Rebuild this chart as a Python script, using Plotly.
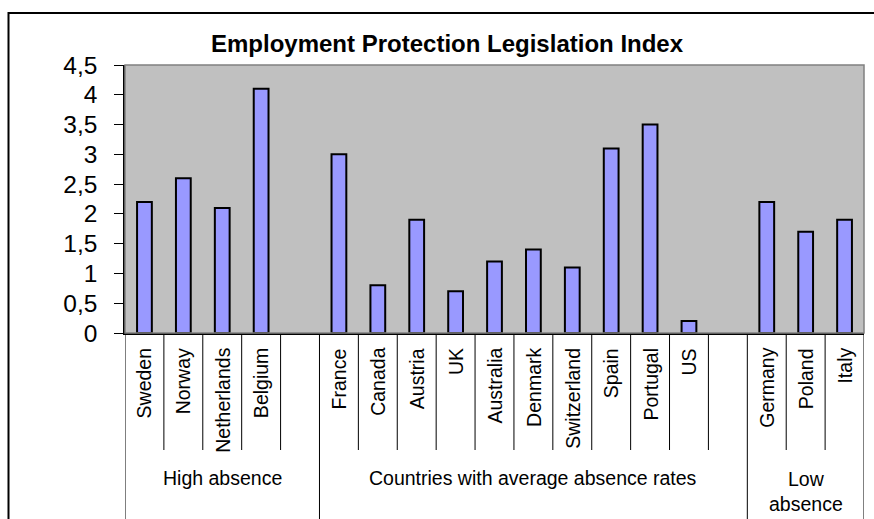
import plotly.graph_objects as go

countries = ["Sweden", "Norway", "Netherlands", "Belgium", "",
             "France", "Canada", "Austria", "UK", "Australia", "Denmark",
             "Switzerland", "Spain", "Portugal", "US", "",
             "Germany", "Poland", "Italy"]
values = [2.2, 2.6, 2.1, 4.1, None,
          3.0, 0.8, 1.9, 0.7, 1.2, 1.4, 1.1, 3.1, 3.5, 0.2, None,
          2.2, 1.7, 1.9]
groups = ["High absence", "Countries with average absence rates", "Low<br>absence"]
group_bounds = [(0, 5), (5, 16), (16, 19)]  # category index ranges [start, end)
y_ticks = [0, 0.5, 1, 1.5, 2, 2.5, 3, 3.5, 4, 4.5]
title = "Employment Protection Legislation Index"

FONT = "Arial, 'Liberation Sans', sans-serif"
W, H = 874, 519
L, R, T, B = 125, 10, 65, 186
pw, ph = W - L - R, H - T - B

def px_to_py(py):
    return (H - B - py) / ph

def px_to_px(px):
    return (px - L) / pw

n = len(countries)
xs = list(range(n))

fig = go.Figure()
fig.add_trace(go.Bar(
    x=xs, y=values, width=0.38,
    marker=dict(color="#9999FF", line=dict(color="black", width=2)),
    hoverinfo="skip",
))

shapes = []
annotations = []

# category labels and short dividers
for i, c in enumerate(countries):
    if c:
        annotations.append(dict(
            x=i, xref="x", y=px_to_py(346), yref="paper",
            text=c, textangle=-90, showarrow=False,
            xanchor="center", yanchor="top",
            font=dict(family=FONT, size=19.5, color="black"),
        ))
long_bounds = set()
for a, b in group_bounds:
    long_bounds.add(a)
    long_bounds.add(b)
for k in range(n + 1):
    y_end = px_to_py(530) if k in long_bounds else px_to_py(450)
    shapes.append(dict(
        type="line", xref="x", yref="paper",
        x0=k - 0.5, x1=k - 0.5, y0=0, y1=y_end,
        line=dict(color="black", width=1),
    ))

# group labels
for g, (a, b) in zip(groups, group_bounds):
    two_line = "<br>" in g
    annotations.append(dict(
        x=(a + b - 1) / 2, xref="x",
        y=px_to_py(491.5 if two_line else 478), yref="paper",
        text=g, showarrow=False, xanchor="center", yanchor="middle",
        font=dict(family=FONT, size=19.5, color="black"),
    ))

# title
annotations.append(dict(
    x=px_to_px(447), xref="paper", y=px_to_py(43), yref="paper",
    text="<b>" + title + "</b>", showarrow=False,
    xanchor="center", yanchor="middle",
    font=dict(family=FONT, size=24, color="black"),
))

# plot area border (gray) and outer chart frame
shapes.append(dict(type="rect", xref="paper", yref="paper", x0=0, x1=1, y0=0, y1=1,
                   line=dict(color="#808080", width=1.5), layer="above"))
shapes.append(dict(type="rect", xref="paper", yref="paper",
                   x0=px_to_px(8.5), x1=px_to_px(885), y0=px_to_py(535), y1=px_to_py(13),
                   line=dict(color="black", width=2)))

fig.update_layout(
    width=W, height=H,
    margin=dict(l=L, r=R, t=T, b=B),
    paper_bgcolor="white", plot_bgcolor="#C0C0C0",
    separators=", ",
    showlegend=False,
    shapes=shapes, annotations=annotations,
    xaxis=dict(range=[-0.5, n - 0.5], showticklabels=False, ticks="",
               showgrid=False, zeroline=False, showline=True,
               linecolor="black", linewidth=1.5, fixedrange=True),
    yaxis=dict(range=[0, 4.5], tickvals=y_ticks, ticks="outside", ticklen=9,
               tickcolor="black", tickwidth=1, ticklabelstandoff=12,
               showgrid=False, zeroline=False, showline=True,
               linecolor="black", linewidth=1.5,
               tickfont=dict(family=FONT, size=24.5, color="black"),
               fixedrange=True),
)

fig.write_html("out.html")
